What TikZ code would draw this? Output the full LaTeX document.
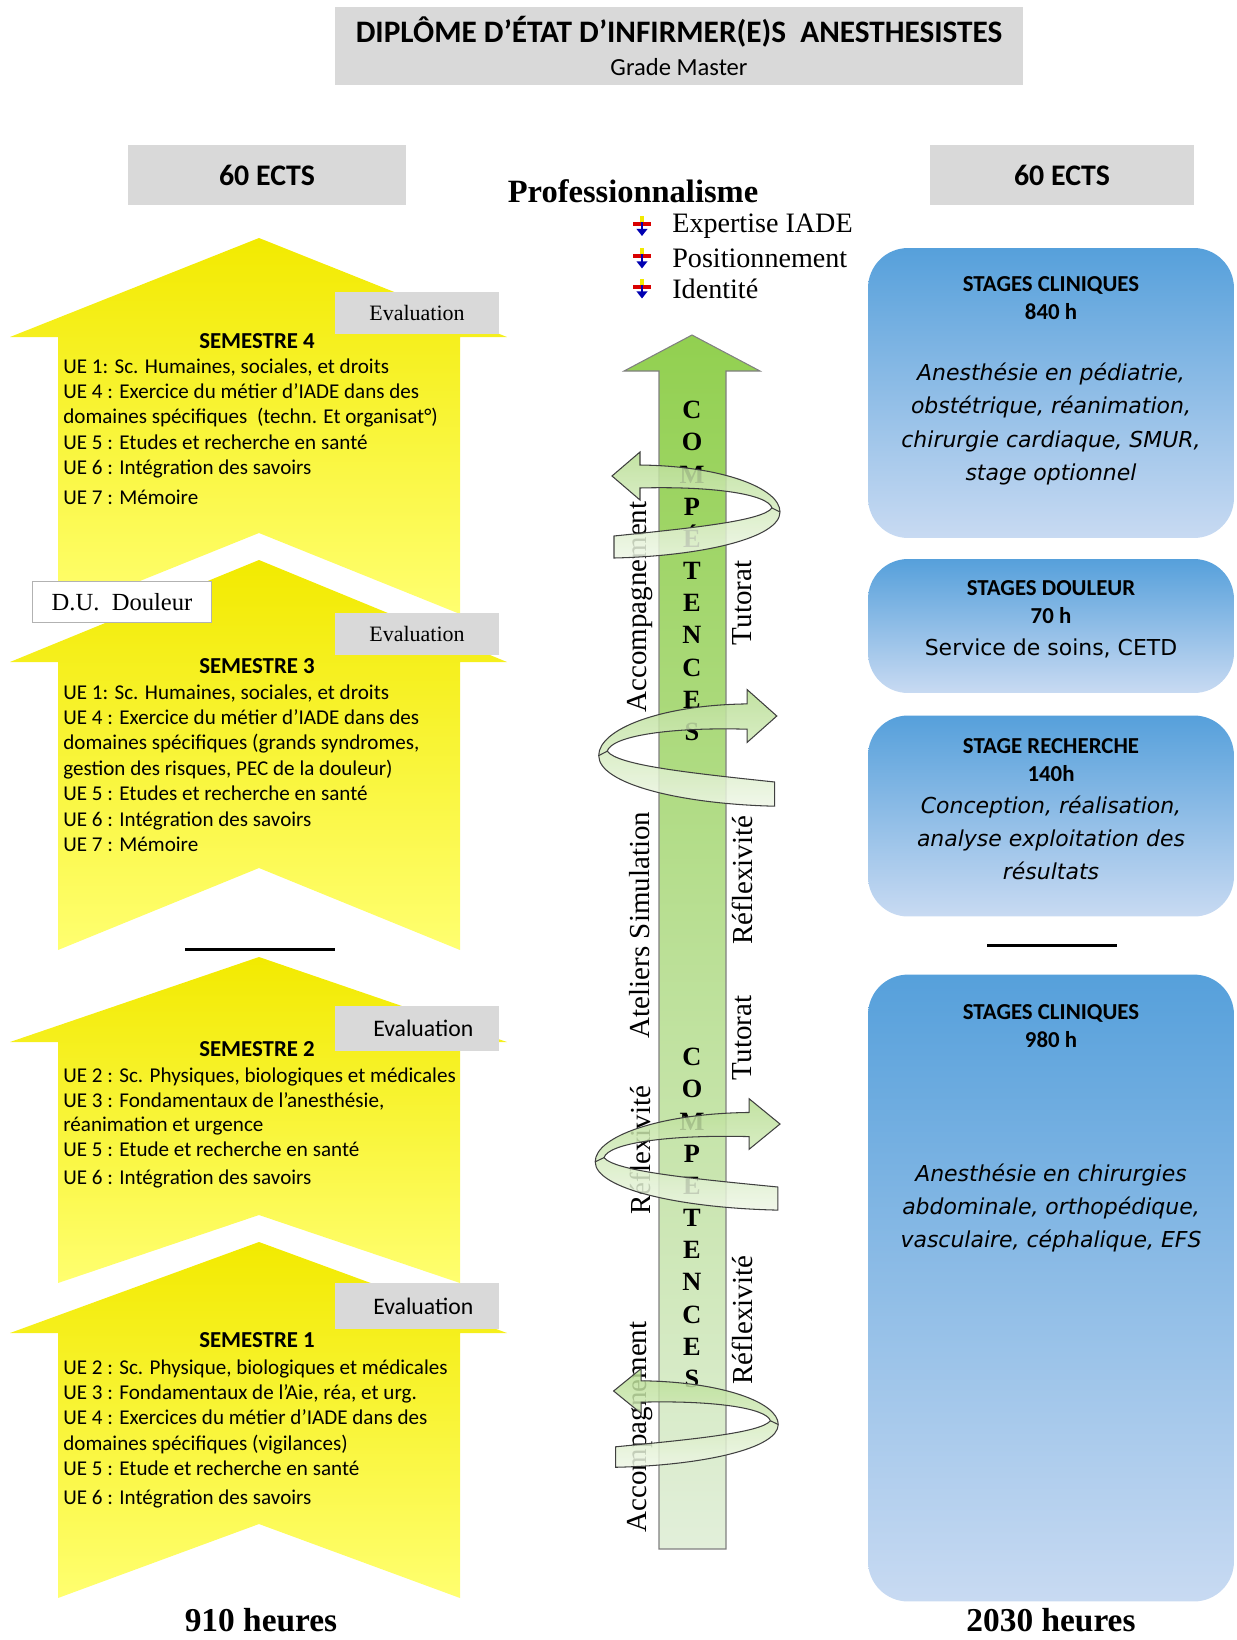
\documentclass[tikz,border=0pt]{standalone}
\usepackage{fontspec}
\setmainfont{Liberation Serif}
\newfontfamily\calibri{Carlito}
\newfontfamily\comique{DejaVu Sans}
\usepackage{tikz}
\usetikzlibrary{shapes,positioning,calc}
\usetikzlibrary{arrows.meta}
\definecolor{grisboite}{RGB}{217,217,217}
\definecolor{jaunehaut}{RGB}{242,234,0}
\definecolor{jaunebas}{RGB}{255,255,112}
\definecolor{verthaut}{RGB}{146,208,80}
\definecolor{vertbas}{RGB}{226,239,218}
\definecolor{bleuhaut}{RGB}{86,160,219}
\definecolor{bleubas}{RGB}{200,218,242}
\definecolor{spiralehaut}{RGB}{184,222,146}
\definecolor{spiralebas}{RGB}{238,246,230}
\tikzstyle{trait} = [line width=1.7pt]

% fleche jaune d'un semestre : pointe, ailes, encoche, bas
\newcommand{\flechesemestre}[4]{%
  \path[semestre] (259,#1) -- (507,#2) -- (460,#2) -- (460,#4) -- (259,#3) -- (58,#4) -- (58,#2) -- (10,#2) -- cycle;}

% fleche circulaire autour de la colonne : hauteur, xscale, yscale
\newcommand{\spiraleverte}[3]{%
  \begin{scope}[shift={(692,#1)}, xscale=#2, yscale=#3]
    \path[spirale] (-78,60) -- (-78,82) .. controls (10,80) and (88,62) .. (88,36)
      .. controls (88,12) and (30,-10) .. (-52,-11) -- (-52,-24) -- (-80,0) -- (-52,24) -- (-52,12)
      .. controls (20,10) and (76,18) .. (80,32) .. controls (70,45) and (0,52) .. (-78,60) -- cycle;
    \draw[black!75, line width=0.6pt] (80,32) -- (88,36);
  \end{scope}}

\begin{document}
\begin{tikzpicture}[x=0.02cm, y=-0.02cm,
  semestre/.style={top color=jaunehaut, bottom color=jaunebas},
  grisbox/.style={fill=grisboite, inner sep=0pt},
  evaluation/.style={grisbox, minimum width=3.28cm, minimum height=0.84cm},
  ue/.style={align=left, anchor=north west, inner sep=0pt, font=\calibri\fontsize{12}{14.5}\selectfont},
  titresem/.style={inner sep=0pt, font=\calibri\bfseries\fontsize{13}{15}\selectfont},
  stage/.style={rounded corners=0.8cm, top color=bleuhaut, bottom color=bleubas, minimum width=7.32cm, inner sep=0pt},
  entete/.style={align=center, inner sep=0pt, font=\calibri\bfseries\fontsize{13}{15.9}\selectfont},
  detail/.style={align=center, inner sep=0pt, font=\comique\itshape\fontsize{12.5}{18.8}\selectfont},
  cote/.style={rotate=90, inner sep=0pt, font=\fontsize{16.5}{18}\selectfont},
  lettres/.style={align=center, anchor=north, inner sep=0pt, font=\bfseries\fontsize{15}{18.3}\selectfont},
  fleche/.style={draw=black!50, line width=0.6pt, top color=verthaut, bottom color=vertbas},
  spirale/.style={draw=black!75, line width=0.6pt, top color=spiralehaut, bottom color=spiralebas, fill opacity=0.85},
  puce/.style={anchor=west, inner sep=0pt, font=\fontsize{16}{18}\selectfont}]

\useasboundingbox (0,0) rectangle (1237,1640);

% TITRE

\node[grisbox, minimum width=13.76cm, minimum height=1.56cm, align=center, font=\calibri\bfseries\fontsize{17.8}{20}\selectfont] (titre) at (679,46)
  {DIPLÔME D’ÉTAT D’INFIRMER(E)S\ \ ANESTHESISTES\\[-1pt] {\mdseries\fontsize{14}{15}\selectfont Grade Master}};

\node[grisbox, minimum width=5.56cm, minimum height=1.2cm, font=\calibri\bfseries\fontsize{17}{19}\selectfont] (ectsgauche) at (267,175) {60 ECTS};
\node[grisbox, minimum width=5.3cm, minimum height=1.2cm, font=\calibri\bfseries\fontsize{17}{19}\selectfont] (ectsdroite) at (1062,175) {60 ECTS};

% SEMESTRES

\flechesemestre{238}{337}{533}{614}
\flechesemestre{560}{662}{868}{950}
\flechesemestre{957}{1042}{1215}{1283}
\flechesemestre{1242}{1333}{1524}{1598}

\node[evaluation, font=\fontsize{12.5}{14}\selectfont] (eval4) at (417,313) {Evaluation};
\node[evaluation, font=\fontsize{12.5}{14}\selectfont] (eval3) at (417,634) {Evaluation};
\node[evaluation, minimum height=0.9cm, font=\calibri\fontsize{13.5}{15}\selectfont] (eval2) at (417,1028) {\hspace*{0.25cm}Evaluation};
\node[evaluation, minimum height=0.92cm, font=\calibri\fontsize{13.5}{15}\selectfont] (eval1) at (417,1306) {\hspace*{0.25cm}Evaluation};

\node[titresem] (sem4titre) at (257,341) {SEMESTRE 4};
\node[ue] (sem4ue) at (63,358) {UE 1: Sc. Humaines, sociales, et droits\\
  UE 4 : Exercice du métier d’IADE dans des\\
  domaines spécifiques\ \ (techn. Et organisat°)\\
  UE 5 : Etudes et recherche en santé\\
  UE 6 : Intégration des savoirs\\[2.5pt]
  UE 7 : Mémoire};

\node[titresem] (sem3titre) at (257,666) {SEMESTRE 3};
\node[ue] (sem3ue) at (63,684) {UE 1: Sc. Humaines, sociales, et droits\\
  UE 4 : Exercice du métier d’IADE dans des\\
  domaines spécifiques (grands syndromes,\\
  gestion des risques, PEC de la douleur)\\
  UE 5 : Etudes et recherche en santé\\
  UE 6 : Intégration des savoirs\\
  UE 7 : Mémoire};

\node[titresem] (sem2titre) at (257,1049) {SEMESTRE 2};
\node[ue] (sem2ue) at (63,1067) {UE 2 : Sc. Physiques, biologiques et médicales\\
  UE 3 : Fondamentaux de l’anesthésie,\\[-1pt]
  réanimation et urgence\\
  UE 5 : Etude et recherche en santé\\[1.5pt]
  UE 6 : Intégration des savoirs};

\node[titresem] (sem1titre) at (257,1340) {SEMESTRE 1};
\node[ue] (sem1ue) at (63,1359) {UE 2 : Sc. Physique, biologiques et médicales\\
  UE 3 : Fondamentaux de l’Aie, réa, et urg.\\
  UE 4 : Exercices du métier d’IADE dans des\\
  domaines spécifiques (vigilances)\\
  UE 5 : Etude et recherche en santé\\[1.5pt]
  UE 6 : Intégration des savoirs};

\node[draw=black!30, fill=white, minimum width=3.58cm, minimum height=0.82cm, font=\fontsize{14}{16}\selectfont] (du) at (122,602) {D.U.\ \ Douleur};

\draw[trait] (185,949) -- (335,949);

\node[font=\bfseries\fontsize{19}{21}\selectfont] (heuresgauche) at (261,1620) {910 heures};

% COMPETENCES

\node[font=\bfseries\fontsize{18.5}{21}\selectfont] (pro) at (633,191) {Professionnalisme};
\node[puce] (expertise) at (672,226) {Expertise IADE};
\node[puce, below=0.2cm of expertise.south west, anchor=north west] (positionnement) {Positionnement};
\node[puce, below=0.2cm of positionnement.south west, anchor=north west] (identite) {Identité};

\fill[jaunehaut] ($(expertise.west)+(-32,-10)$) rectangle ++(4,7);
\fill[red!85!black] ($(expertise.west)+(-39,-4)$) rectangle ++(18,4);
\draw[blue!70!black, line width=1.6pt, -{Triangle[length=4pt,width=6pt]}] ($(expertise.west)+(-30,-4)$) -- ++(0,14);
\fill[jaunehaut] ($(positionnement.west)+(-32,-10)$) rectangle ++(4,7);
\fill[red!85!black] ($(positionnement.west)+(-39,-4)$) rectangle ++(18,4);
\draw[blue!70!black, line width=1.6pt, -{Triangle[length=4pt,width=6pt]}] ($(positionnement.west)+(-30,-4)$) -- ++(0,14);
\fill[jaunehaut] ($(identite.west)+(-32,-10)$) rectangle ++(4,7);
\fill[red!85!black] ($(identite.west)+(-39,-4)$) rectangle ++(18,4);
\draw[blue!70!black, line width=1.6pt, -{Triangle[length=4pt,width=6pt]}] ($(identite.west)+(-30,-4)$) -- ++(0,14);

\path[fleche] (692,335) -- (760,371) -- (726,371) -- (726,1549) -- (659,1549) -- (659,371) -- (624,371) -- cycle;

\node[lettres] (competences1) at (692,401) {C\\O\\M\\P\\É\\T\\E\\N\\C\\E\\S};
\node[lettres] (competences2) at (692,1048) {C\\O\\M\\P\\E\\T\\E\\N\\C\\E\\S};

\node[cote] (accompagnement1) at (640,607) {Accompagnement};
\node[cote] (tutorat1) at (742,603) {Tutorat};
\node[cote] (ateliers) at (640,925) {Ateliers Simulation};
\node[cote] (reflexivite1) at (742,880) {Réflexivité};
\node[cote] (tutorat2) at (742,1038) {Tutorat};
\node[cote] (reflexivite2) at (640,1150) {Réflexivité};
\node[cote] (reflexivite3) at (742,1320) {Réflexivité};
\node[cote] (accompagnement2) at (640,1427) {Accompagnement};

\spiraleverte{476}{1}{1}
\spiraleverte{716}{-1.06}{1.1}
\spiraleverte{1124}{-1.1}{1.05}
\spiraleverte{1391}{0.98}{0.93}

% STAGES

\node[stage, minimum height=5.8cm] (stage1) at (1051,393) {};
\node[entete] (stage1titre) at (1051,298) {STAGES CLINIQUES\\840 h};
\node[detail] (stage1texte) at (1051,424) {Anesthésie en pédiatrie,\\obstétrique, réanimation,\\chirurgie cardiaque, SMUR,\\stage optionnel};

\node[stage, minimum height=2.68cm] (stage2) at (1051,626) {};
\node[entete] (stage2titre) at (1051,602) {STAGES DOULEUR\\70 h};
\node[detail, font=\comique\fontsize{12.5}{18.8}\selectfont] (stage2texte) at (1051,648) {Service de soins, CETD};

\node[stage, minimum height=4.02cm] (stage3) at (1051,816) {};
\node[entete] (stage3titre) at (1051,760) {STAGE RECHERCHE\\140h};
\node[detail] (stage3texte) at (1051,838) {Conception, réalisation,\\analyse exploitation des\\résultats};

\draw[trait] (987,945) -- (1117,945);

\node[stage, minimum height=12.54cm] (stage4) at (1051,1288) {};
\node[entete] (stage4titre) at (1051,1026) {STAGES CLINIQUES\\980 h};
\node[detail] (stage4texte) at (1051,1208) {Anesthésie en chirurgies\\abdominale, orthopédique,\\vasculaire, céphalique, EFS};

\node[font=\bfseries\fontsize{19}{21}\selectfont] (heuresdroite) at (1051,1620) {2030 heures};

\end{tikzpicture}
\end{document}
